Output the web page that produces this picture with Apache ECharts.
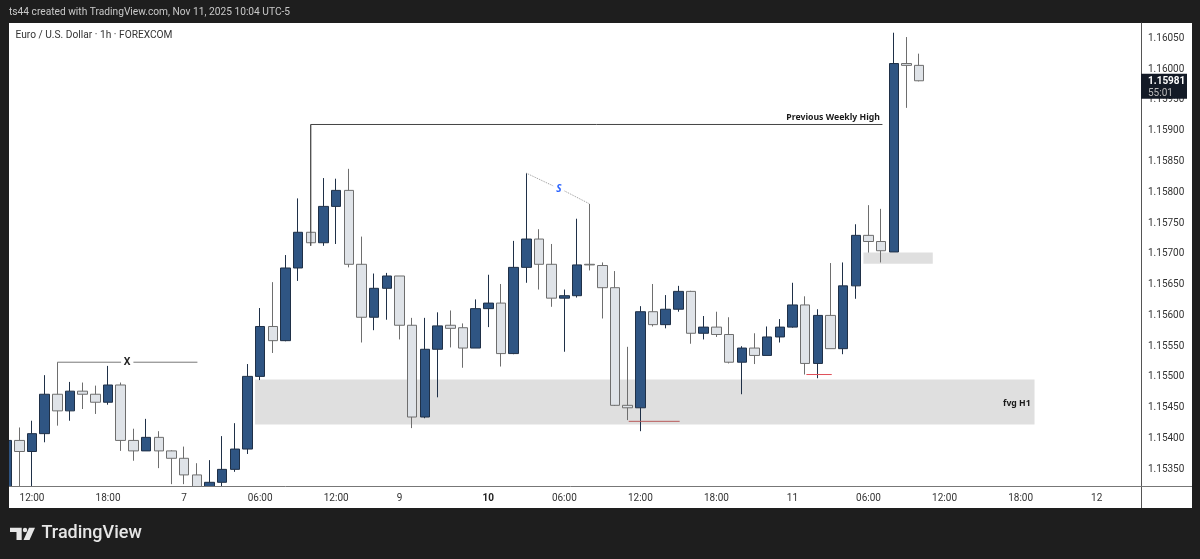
<!DOCTYPE html>
<html lang="en">
  <head>
    <meta charset="UTF-8" />
    <title>Euro / U.S. Dollar 1h</title>
    <script src="https://cdn.jsdelivr.net/npm/echarts@6/dist/echarts.min.js"></script>
    <style>
      html, body { margin: 0; padding: 0; background: #1e1e1e; }
      #main { width: 1200px; height: 559px; }
    </style>
  </head>
  <body>
    <div id="main"></div>
    <script>
      // hourly bars, Nov 6 10:00 onwards (market shut from Fri 17:00 to Sun 17:00)
      var barTimes = [
        "6 10:00","6 11:00","6 12:00","6 13:00","6 14:00","6 15:00","6 16:00","6 17:00","6 18:00","6 19:00","6 20:00","6 21:00","6 22:00","6 23:00",
        "7 00:00","7 01:00","7 02:00","7 03:00","7 04:00","7 05:00","7 06:00","7 07:00","7 08:00","7 09:00","7 10:00","7 11:00","7 12:00","7 13:00","7 14:00","7 15:00","7 16:00",
        "9 17:00","9 18:00","9 19:00","9 20:00","9 21:00","9 22:00","9 23:00",
        "10 00:00","10 01:00","10 02:00","10 03:00","10 04:00","10 05:00","10 06:00","10 07:00","10 08:00","10 09:00","10 10:00","10 11:00","10 12:00","10 13:00","10 14:00","10 15:00","10 16:00","10 17:00","10 18:00","10 19:00","10 20:00","10 21:00","10 22:00","10 23:00",
        "11 00:00","11 01:00","11 02:00","11 03:00","11 04:00","11 05:00","11 06:00","11 07:00","11 08:00","11 09:00","11 10:00","11 11:00","11 12:00","11 13:00","11 14:00","11 15:00","11 16:00","11 17:00","11 18:00","11 19:00","11 20:00","11 21:00","11 22:00","11 23:00",
        "12 00:00","12 01:00","12 02:00","12 03:00"
      ];
      var opens = [
        1.15300,1.15397,1.15379,1.15408,1.15472,1.15445,1.15477,1.15472,1.15459,1.15487,
        1.15397,1.15380,1.15402,1.15380,1.15368,1.15341,1.15310,1.15329,1.15350,1.15383,
        1.15501,1.15582,1.15559,1.15677,1.15735,1.15718,1.15777,1.15803,1.15683,1.15597,
        1.15644,1.15664,1.15584,1.15435,1.15545,1.15584,1.15580,1.15547,1.15611,1.15620,
        1.15538,1.15678,1.15724,1.15683,1.15628,1.15632,1.15683,1.15681,1.15645,1.15454,
        1.15450,1.15606,1.15585,1.15610,1.15639,1.15571,1.15581,1.15569,1.15524,1.15547,
        1.15535,1.15565,1.15581,1.15617,1.15522,1.15600,1.15546,1.15648,1.15730,1.15720,
        1.15703,1.16009,1.16006
      ];
      var closes = [
        1.15397,1.15379,1.15408,1.15472,1.15445,1.15477,1.15472,1.15459,1.15487,1.15397,
        1.15380,1.15402,1.15380,1.15368,1.15341,1.15315,1.15329,1.15350,1.15383,1.15501,
        1.15582,1.15559,1.15677,1.15735,1.15718,1.15777,1.15803,1.15683,1.15597,1.15644,
        1.15664,1.15584,1.15435,1.15545,1.15583,1.15579,1.15547,1.15611,1.15620,1.15538,
        1.15678,1.15724,1.15683,1.15628,1.15632,1.15682,1.15682,1.15645,1.15454,1.15450,
        1.15606,1.15585,1.15610,1.15639,1.15571,1.15581,1.15569,1.15524,1.15547,1.15535,
        1.15565,1.15581,1.15617,1.15522,1.15600,1.15546,1.15648,1.15730,1.15720,1.15705,
        1.16009,1.16006,1.15981
      ];
      var highs = [
        1.15400,1.15418,1.15429,1.15503,1.15524,1.15492,1.15491,1.15486,1.15518,1.15491,
        1.15416,1.15432,1.15412,1.15381,1.15387,1.15360,1.15365,1.15404,1.15425,1.15521,
        1.15612,1.15654,1.15698,1.15790,1.15910,1.15823,1.15822,1.15838,1.15728,1.15668,
        1.15669,1.15664,1.15596,1.15596,1.15605,1.15608,1.15587,1.15626,1.15666,1.15651,
        1.15721,1.15831,1.15740,1.15716,1.15642,1.15757,1.15781,1.15686,1.15672,1.15549,
        1.15615,1.15651,1.15633,1.15648,1.15640,1.15599,1.15606,1.15597,1.15550,1.15571,
        1.15582,1.15594,1.15653,1.15631,1.15610,1.15685,1.15686,1.15748,1.15779,1.15773,
        1.16059,1.16052,1.16025
      ];
      var lows = [
        1.15290,1.15290,1.15290,1.15394,1.15421,1.15429,1.15448,1.15440,1.15455,1.15380,
        1.15364,1.15380,1.15352,1.15326,1.15326,1.15300,1.15290,1.15323,1.15346,1.15375,
        1.15495,1.15539,1.15558,1.15656,1.15713,1.15713,1.15716,1.15678,1.15556,1.15576,
        1.15593,1.15561,1.15417,1.15433,1.15467,1.15548,1.15515,1.15547,1.15581,1.15517,
        1.15537,1.15653,1.15642,1.15614,1.15541,1.15629,1.15673,1.15595,1.15453,1.15430,
        1.15412,1.15582,1.15579,1.15606,1.15554,1.15561,1.15565,1.15522,1.15472,1.15521,
        1.15535,1.15556,1.15580,1.15504,1.15498,1.15546,1.15537,1.15627,1.15702,1.15686,
        1.15703,1.15937,1.15980
      ];

      var priceTicks = [1.1535,1.154,1.1545,1.155,1.1555,1.156,1.1565,1.157,1.1575,1.158,1.1585,1.159,1.1595,1.16,1.1605];
      // bar index -> label on the time axis
      var timeTicks = {2:"12:00",8:"18:00",14:"7",20:"06:00",26:"12:00",31:"9",38:"10",44:"06:00",50:"12:00",56:"18:00",62:"11",68:"06:00",74:"12:00",80:"18:00",86:"12"};
      var lastPrice = 1.15981;
      var countdown = "55:01";

      // drawings, in [bar index, price]
      var fvgZone = [19.6, 81.1, 1.15496, 1.15423];
      var smallZone = [67.6, 73.07, 1.15702, 1.15684];
      var xLine = [[4,1.15524],[9.03,1.15524],[null,null],[10,1.15524],[15.05,1.15524]];
      var weeklyHighLine = [[24,1.15713],[24,1.15910],[69.1,1.15910]];
      var sLine = [[41,1.15831],[43.15,1.15810],[null,null],[44.02,1.15802],[46,1.15781]];
      var sweepLine1 = [[49.08,1.15428],[53.1,1.15428]];
      var sweepLine2 = [[63.1,1.15504],[65.1,1.15504]];
      var noteTexts = [
        [9.5, 1.15524, "X", "center", "#222", "bold", "normal", 10],
        [43.58, 1.15805, "S", "center", "#2962ff", "bold", "italic", 10],
        [68.9, 1.15921, "Previous Weekly High", "right", "#1a1a1a", "bold", "normal", 8.7],
        [80.8, 1.15457, "fvg H1", "right", "#1a1a1a", "bold", "normal", 8.7]
      ];

      var DARK = "#1e1e1e";
      var candles = opens.map(function (o, i) {
        return [o, closes[i], lows[i], highs[i]];
      });

      function lineSeries(points, color, width, type) {
        return {
          type: "line",
          xAxisIndex: 1,
          data: points,
          symbol: "none",
          silent: true,
          z: 3,
          lineStyle: { color: color, width: width, type: type || "solid" },
        };
      }

      function zoneSeries(zone) {
        return {
          type: "custom",
          xAxisIndex: 1,
          silent: true,
          z: 1,
          data: [zone],
          renderItem: function (params, api) {
            var a = api.coord([api.value(0), api.value(2)]);
            var b = api.coord([api.value(1), api.value(3)]);
            return {
              type: "rect",
              shape: { x: a[0], y: a[1], width: b[0] - a[0], height: b[1] - a[1] },
              style: { fill: "#dfdfdf" },
            };
          },
        };
      }

      var myChart = echarts.init(document.getElementById("main"));

      var option = {
        animation: false,
        backgroundColor: DARK,
        graphic: [
          { type: "rect", z: -1, shape: { x: 9, y: 23, width: 1183, height: 485 }, style: { fill: "#fff" } },
          // time axis band, hides wicks that run below the pane
          { type: "rect", z: 6, shape: { x: 9, y: 486.5, width: 1183, height: 21.5 }, style: { fill: "#fff" } },
          { type: "line", z: 7, shape: { x1: 1141.5, y1: 486, x2: 1141.5, y2: 508 }, style: { stroke: "#555", lineWidth: 1 } },
          { type: "line", z: 7, shape: { x1: 1141, y1: 486.5, x2: 1192, y2: 486.5 }, style: { stroke: "#777", lineWidth: 1 } },
          { type: "rect", z: 100, shape: { x: 0, y: 0, width: 9, height: 559 }, style: { fill: DARK } },
          { type: "text", z: 101, x: 9, y: 7, style: { text: "ts44 created with TradingView.com, Nov 11, 2025 10:04 UTC-5", fill: "#c9c9c9", font: "10.2px Roboto" } },
          { type: "text", z: 101, x: 15.5, y: 30, style: { text: "Euro / U.S. Dollar · 1h · FOREXCOM", fill: "#333", font: "10.2px Roboto" } },
          // logo mark
          { type: "polygon", z: 101, shape: { points: [[10,527.7],[21.7,527.7],[21.7,540],[16.5,540],[16.5,532],[10,532]] }, style: { fill: "#e6e6e6" } },
          { type: "circle", z: 101, shape: { cx: 25, cy: 530, r: 2.2 }, style: { fill: "#e6e6e6" } },
          { type: "polygon", z: 101, shape: { points: [[29,527.7],[35,527.7],[29.5,540],[23.5,540]] }, style: { fill: "#e6e6e6" } },
          { type: "text", z: 101, x: 41.5, y: 524, style: { text: "TradingView", fill: "#e6e6e6", font: "500 18px Roboto" } },
        ],
        grid: { left: 0.33, top: 23, width: 1140.67, height: 463 },
        xAxis: [
          {
            type: "category",
            data: barTimes,
            z: 8,
            axisTick: { show: false },
            axisLine: { lineStyle: { color: "#777", width: 1 } },
            splitLine: { show: false },
            axisLabel: {
              interval: function (index) {
                return timeTicks[index] !== undefined;
              },
              hideOverlap: false,
              margin: 7,
              color: "#333",
              fontFamily: "Roboto",
              fontSize: 10,
              formatter: function (value, index) {
                var t = timeTicks[index];
                return t === "10" ? "{b|10}" : t;
              },
              rich: { b: { fontWeight: "bold", color: "#222", fontFamily: "Roboto", fontSize: 10 } },
            },
          },
          { type: "value", min: -0.5, max: 89.5, show: false },
        ],
        yAxis: {
          type: "value",
          position: "right",
          min: 1.15323,
          max: 1.160748,
          axisLine: { show: true, onZero: false, lineStyle: { color: "#555", width: 1 } },
          axisTick: { show: false },
          splitLine: { show: false },
          axisLabel: {
            customValues: priceTicks,
            margin: 7,
            padding: [3, 0, 0, 0],
            color: "#333",
            fontFamily: "Roboto",
            fontSize: 10,
            formatter: function (v) {
              return v.toFixed(5);
            },
          },
        },
        series: [
          zoneSeries(fvgZone),
          zoneSeries(smallZone),
          {
            type: "candlestick",
            data: candles,
            barWidth: 10,
            z: 2,
            silent: true,
            itemStyle: {
              color: "#2f5583",
              color0: "#dfe3e8",
              borderColor: "#1f3047",
              borderColor0: "#6e6e6e",
              borderColorDoji: "#555",
              borderWidth: 1,
            },
          },
          lineSeries(xLine, "#777", 1),
          lineSeries(weeklyHighLine, "#444", 1),
          lineSeries(sLine, "#999", 1, "dotted"),
          lineSeries(sweepLine1, "#b85c5c", 1),
          lineSeries(sweepLine2, "#e0505a", 1),
          {
            type: "custom",
            xAxisIndex: 1,
            silent: true,
            z: 4,
            data: noteTexts,
            renderItem: function (params, api) {
              var note = noteTexts[params.dataIndex];
              var p = api.coord([note[0], note[1]]);
              return {
                type: "text",
                x: p[0],
                y: p[1],
                style: {
                  text: note[2],
                  fill: note[4],
                  align: note[3],
                  verticalAlign: "middle",
                  font: note[6] + " " + note[5] + " " + note[7] + "px 'Noto Sans'",
                },
              };
            },
          },
          {
            // last price tag on the price scale
            type: "custom",
            xAxisIndex: 1,
            silent: true,
            z: 9,
            clip: false,
            data: [[72, lastPrice]],
            renderItem: function (params, api) {
              var y = api.coord([api.value(0), api.value(1)])[1];
              return {
                type: "group",
                children: [
                  { type: "rect", shape: { x: 1141, y: y - 7, width: 46, height: 25 }, style: { fill: "#131a26" } },
                  { type: "text", x: 1148, y: y + 1, style: { text: lastPrice.toFixed(5), fill: "#fff", verticalAlign: "middle", font: "bold 10px Roboto" } },
                  { type: "text", x: 1148, y: y + 13, style: { text: countdown, fill: "#bbb", verticalAlign: "middle", font: "10px Roboto" } },
                ],
              };
            },
          },
        ],
      };

      myChart.setOption(option);
    </script>
  </body>
</html>
